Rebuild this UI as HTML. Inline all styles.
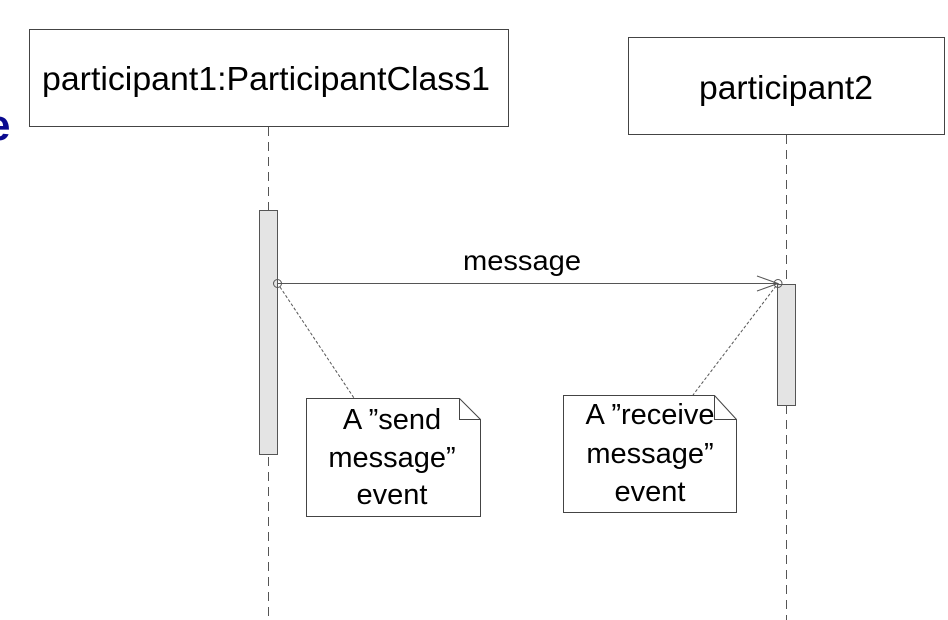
<!DOCTYPE html>
<html><head><style>body{margin:0;background:#fff}</style></head><body>
<svg width="948" height="620" xmlns="http://www.w3.org/2000/svg" style="display:block">
<text x="-14" y="140" font-family="Liberation Sans, sans-serif" font-size="44" font-weight="bold" fill="#0a0a90">e</text>
<rect x="29.5" y="29.5" width="479" height="97" fill="#fff" stroke="#444"/>
<text x="42" y="90" font-family="Liberation Sans, sans-serif" font-size="33" textLength="448" lengthAdjust="spacingAndGlyphs">participant1:ParticipantClass1</text>
<rect x="628.5" y="37.5" width="316" height="97" fill="#fff" stroke="#444"/>
<text x="699" y="99" font-family="Liberation Sans, sans-serif" font-size="33" textLength="174" lengthAdjust="spacingAndGlyphs">participant2</text>
<line x1="268.5" y1="127" x2="268.5" y2="620" stroke="#555" stroke-dasharray="9,6"/>
<line x1="786.5" y1="135" x2="786.5" y2="620" stroke="#555" stroke-dasharray="9,6"/>
<rect x="259.5" y="210.5" width="18" height="244" fill="#e4e4e4" stroke="#555"/>
<rect x="777.5" y="284.5" width="18" height="121" fill="#e4e4e4" stroke="#555"/>
<line x1="277" y1="283.5" x2="778" y2="283.5" stroke="#555"/>
<circle cx="277.5" cy="283.5" r="4" fill="none" stroke="#555"/>
<circle cx="778" cy="283.5" r="4" fill="none" stroke="#555"/>
<polyline points="757,276 778,283.5 757,291" fill="none" stroke="#555"/>
<text x="463" y="270" font-family="Liberation Sans, sans-serif" font-size="28" textLength="118" lengthAdjust="spacingAndGlyphs">message</text>
<line x1="280" y1="287" x2="354" y2="398" stroke="#555" stroke-dasharray="3,2"/>
<line x1="776" y1="286" x2="693" y2="395" stroke="#555" stroke-dasharray="3,2"/>
<path d="M306.5 398.5 H459.5 L480.5 419.5 V516.5 H306.5 Z" fill="#fff" stroke="#444"/>
<polyline points="459.5,398.5 459.5,419.5 480.5,419.5" fill="none" stroke="#444"/>
<g font-family="Liberation Sans, sans-serif" font-size="29" text-anchor="middle">
<text x="392" y="429">A ”send</text>
<text x="392" y="467">message”</text>
<text x="392" y="504">event</text>
</g>
<path d="M563.5 395.5 H714.5 L736.5 419.5 V512.5 H563.5 Z" fill="#fff" stroke="#444"/>
<polyline points="714.5,395.5 714.5,419.5 736.5,419.5" fill="none" stroke="#444"/>
<g font-family="Liberation Sans, sans-serif" font-size="29" text-anchor="middle">
<text x="650" y="424">A ”receive</text>
<text x="650" y="463">message”</text>
<text x="650" y="501">event</text>
</g>
</svg>
</body></html>
